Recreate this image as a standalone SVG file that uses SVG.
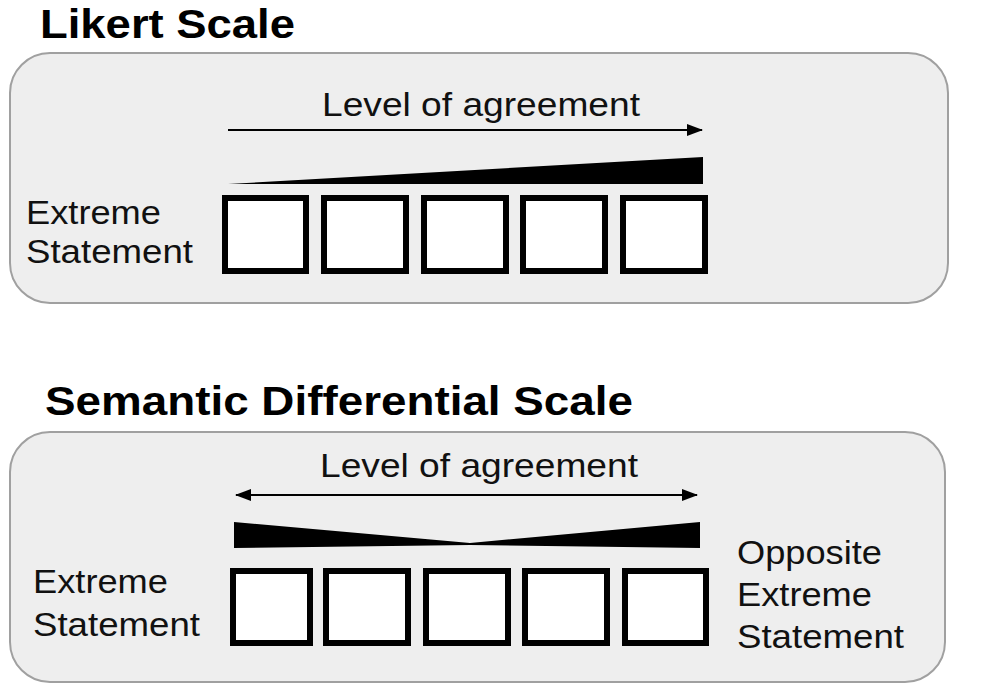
<svg xmlns="http://www.w3.org/2000/svg" width="993" height="692" viewBox="0 0 993 692">
<style>
.t{font-family:"Liberation Sans",Arial,sans-serif;font-weight:bold;font-size:40px;fill:#000}
.l{font-family:"Liberation Sans",Arial,sans-serif;font-size:33px;fill:#111}
.p{fill:#eeeeee;stroke:#a0a0a0;stroke-width:2}
.b{fill:#fff;stroke:#000;stroke-width:6}
.a{stroke:#000;stroke-width:2;fill:none}
</style>
<defs><marker id="ah" markerWidth="16" markerHeight="12" refX="15" refY="6" orient="auto-start-reverse" markerUnits="userSpaceOnUse"><path d="M0,0 L16,6 L0,12 Z" fill="#000"/></marker></defs>
<rect width="993" height="692" fill="#fff"/>
<g id="likert">
<text class="t" x="40" y="38" textLength="255" lengthAdjust="spacingAndGlyphs">Likert Scale</text>
<rect class="p" x="10" y="53" width="938" height="250" rx="40"/>
<text class="l" x="322" y="116" textLength="318" lengthAdjust="spacingAndGlyphs">Level of agreement</text>
<polygon points="228,184 703,157 703,184" fill="#000"/>
<rect class="b" x="225" y="198" width="81" height="73"/>
<rect class="b" x="324" y="198" width="82" height="73"/>
<rect class="b" x="424" y="198" width="82" height="73"/>
<rect class="b" x="523" y="198" width="82" height="73"/>
<rect class="b" x="623" y="198" width="82" height="73"/>
<text class="l" x="26" y="224" textLength="135" lengthAdjust="spacingAndGlyphs">Extreme</text>
<text class="l" x="26" y="263" textLength="167" lengthAdjust="spacingAndGlyphs">Statement</text>
</g>
<g id="semantic">
<text class="t" x="45" y="415" textLength="588" lengthAdjust="spacingAndGlyphs">Semantic Differential Scale</text>
<rect class="p" x="10" y="432" width="935" height="250" rx="40"/>
<text class="l" x="320" y="477" textLength="318" lengthAdjust="spacingAndGlyphs">Level of agreement</text>
<polygon points="234,522 470,543 700,522 700,548 470,545 234,548" fill="#000"/>
<rect class="b" x="233" y="571" width="77" height="72"/>
<rect class="b" x="326" y="571" width="82" height="72"/>
<rect class="b" x="426" y="571" width="82" height="72"/>
<rect class="b" x="525" y="571" width="82" height="72"/>
<rect class="b" x="625" y="571" width="81" height="72"/>
<text class="l" x="33" y="593" textLength="135" lengthAdjust="spacingAndGlyphs">Extreme</text>
<text class="l" x="33" y="636" textLength="167" lengthAdjust="spacingAndGlyphs">Statement</text>
<text class="l" x="737" y="564" textLength="145" lengthAdjust="spacingAndGlyphs">Opposite</text>
<text class="l" x="737" y="606" textLength="135" lengthAdjust="spacingAndGlyphs">Extreme</text>
<text class="l" x="737" y="648" textLength="167" lengthAdjust="spacingAndGlyphs">Statement</text>
</g>
<g id="connectors">
<line class="a" x1="228" y1="130" x2="702" y2="130" marker-end="url(#ah)"/>
<line class="a" x1="236" y1="495" x2="697" y2="495" marker-start="url(#ah)" marker-end="url(#ah)"/>
</g>
</svg>
